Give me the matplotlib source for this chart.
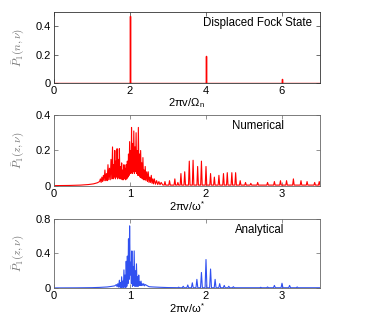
import numpy as np
import matplotlib
matplotlib.use('Agg')
import matplotlib.pyplot as plt

plt.rcParams['font.family'] = ['Liberation Sans', 'DejaVu Sans']
plt.rcParams['mathtext.fontset'] = 'cm'

# top panel: displaced Fock state lines
fock_pos = [2, 4, 6]
fock_height = [0.47, 0.19, 0.03]

# middle panel: numerical spectrum, dense part (x, y)
num_x = [0.0, 0.2, 0.35, 0.45, 0.52, 0.57, 0.60,
         0.61, 0.62, 0.63, 0.64, 0.65, 0.66, 0.67, 0.68, 0.69, 0.70, 0.71, 0.72, 0.73, 0.74,
         0.75, 0.76, 0.77, 0.778, 0.785, 0.793, 0.80, 0.808, 0.815, 0.823, 0.83, 0.838,
         0.845, 0.853, 0.86, 0.868, 0.875, 0.883, 0.89, 0.898, 0.905, 0.913, 0.92, 0.928,
         0.935, 0.943, 0.95, 0.958, 0.965, 0.973, 0.98, 0.988, 0.995, 1.003, 1.01, 1.015,
         1.02, 1.028, 1.035, 1.043, 1.05, 1.058, 1.065, 1.073, 1.08, 1.088, 1.095, 1.103,
         1.11, 1.118, 1.125, 1.133, 1.14, 1.148, 1.155, 1.163, 1.17, 1.178, 1.185, 1.193,
         1.20, 1.21, 1.22, 1.23, 1.24, 1.25, 1.26, 1.27, 1.28, 1.29, 1.30, 1.31, 1.32, 1.335,
         1.35, 1.365, 1.38, 1.395, 1.41, 1.43]
num_y = [0.002, 0.003, 0.005, 0.008, 0.012, 0.018, 0.025,
         0.04, 0.02, 0.05, 0.025, 0.06, 0.03, 0.09, 0.03, 0.07, 0.03, 0.12, 0.035, 0.10, 0.035,
         0.15, 0.04, 0.22, 0.04, 0.12, 0.05, 0.20, 0.04, 0.14, 0.05, 0.21, 0.04,
         0.15, 0.05, 0.21, 0.04, 0.11, 0.04, 0.13, 0.035, 0.09, 0.035, 0.12, 0.04,
         0.10, 0.035, 0.12, 0.04, 0.14, 0.05, 0.18, 0.06, 0.25, 0.07, 0.20, 0.08,
         0.33, 0.07, 0.24, 0.08, 0.31, 0.07, 0.22, 0.08, 0.30, 0.07, 0.20, 0.06,
         0.33, 0.06, 0.18, 0.05, 0.20, 0.045, 0.13, 0.04, 0.16, 0.035, 0.09, 0.035,
         0.11, 0.03, 0.08, 0.025, 0.08, 0.02, 0.05, 0.02, 0.06, 0.015, 0.04, 0.012, 0.04, 0.01,
         0.03, 0.008, 0.025, 0.007, 0.02, 0.006]
# numerical spectrum, sparse narrow spikes above a flat floor
num_spike_x = [1.46, 1.52, 1.59, 1.63, 1.67, 1.72, 1.78, 1.83, 1.89, 1.94, 2.00, 2.06, 2.11,
               2.17, 2.23, 2.28, 2.34, 2.39, 2.45, 2.52, 2.59, 2.68, 2.81, 2.90, 2.98, 3.06,
               3.15, 3.25, 3.33, 3.43, 3.49]
num_spike_h = [0.025, 0.03, 0.04, 0.02, 0.07, 0.08, 0.14, 0.145, 0.11, 0.14, 0.11, 0.07, 0.05,
               0.06, 0.07, 0.075, 0.075, 0.075, 0.03, 0.02, 0.015, 0.02, 0.02, 0.025, 0.03, 0.03,
               0.04, 0.03, 0.025, 0.02, 0.025]
num_floor = 0.005

# bottom panel: analytical spectrum, dense part (x, y)
ana_x = [0.0, 0.3, 0.5, 0.6, 0.7, 0.75, 0.80,
         0.82, 0.83, 0.84, 0.85, 0.86, 0.868, 0.875, 0.883, 0.89, 0.898, 0.905, 0.913,
         0.92, 0.928, 0.935, 0.943, 0.95, 0.958, 0.965, 0.973, 0.98, 0.988, 0.995, 1.003,
         1.01, 1.018, 1.025, 1.033, 1.04, 1.048, 1.055, 1.063, 1.07, 1.078, 1.085, 1.093,
         1.10, 1.108, 1.115, 1.123, 1.13, 1.138, 1.145, 1.153, 1.16, 1.17, 1.18, 1.19, 1.20,
         1.25, 1.30, 1.40, 1.50, 1.60]
ana_y = [0.001, 0.002, 0.004, 0.007, 0.012, 0.018, 0.025,
         0.04, 0.015, 0.05, 0.01, 0.09, 0.01, 0.06, 0.005, 0.13, 0.01, 0.08, 0.0,
         0.21, 0.01, 0.15, 0.0, 0.31, 0.02, 0.37, 0.05, 0.57, 0.10, 0.72, 0.15,
         0.30, 0.05, 0.43, 0.02, 0.25, 0.03, 0.43, 0.02, 0.20, 0.02, 0.28, 0.02,
         0.13, 0.02, 0.15, 0.03, 0.07, 0.03, 0.08, 0.03, 0.05, 0.03, 0.05, 0.025, 0.04,
         0.015, 0.012, 0.008, 0.005, 0.004]
# analytical spectrum, sparse spikes
ana_spike_x = [1.64, 1.70, 1.76, 1.82, 1.88, 1.94, 2.00, 2.06, 2.12, 2.18, 2.24, 2.30, 2.36,
               2.72, 2.81, 2.90, 3.00, 3.10, 3.20]
ana_spike_h = [0.01, 0.02, 0.035, 0.06, 0.10, 0.18, 0.33, 0.22, 0.10, 0.05, 0.03, 0.02, 0.015,
               0.008, 0.012, 0.03, 0.055, 0.03, 0.012]
ana_floor = 0.003


def add_spikes(xs, ys, spike_x, spike_h, floor, end, hw=0.01):
    xs = list(xs)
    ys = list(ys)
    for p, h in zip(spike_x, spike_h):
        xs += [p - hw, p, p + hw]
        ys += [floor, h, floor]
    xs.append(end)
    ys.append(floor)
    return xs, ys


fig = plt.figure(figsize=(3.74, 3.22), dpi=100)
ax1 = fig.add_axes([0.1444, 0.7422, 0.7112, 0.2205])
ax2 = fig.add_axes([0.1444, 0.4224, 0.7112, 0.2205])
ax3 = fig.add_axes([0.1444, 0.1056, 0.7112, 0.2143])

fx, fy = add_spikes([0.0], [0.0], fock_pos, fock_height, 0.0, 7.0, hw=0.0)
nx, ny = add_spikes(num_x, num_y, num_spike_x, num_spike_h, num_floor, 3.5)
ax_, ay_ = add_spikes(ana_x, ana_y, ana_spike_x, ana_spike_h, ana_floor, 3.5, hw=0.012)

ax1.plot(fx, fy, color='#ff0000', lw=1.0)
ax2.plot(nx, ny, color='#ff0000', lw=0.8)
ax3.plot(ax_, ay_, color='#3050f0', lw=0.8)

ax1.set_xlim(0, 7)
ax1.set_ylim(0, 0.5)
ax1.set_xticks([0, 2, 4, 6])
ax1.set_yticks([0, 0.2, 0.4])
ax1.set_yticklabels(['0', '0.2', '0.4'])
ax1.set_xlabel('2πv/Ω$_\\mathregular{n}$', fontsize=8, labelpad=0)
ax1.set_ylabel('$\\bar{P}_1(n,\\nu)$', fontsize=8, color='#777777')

ax2.set_xlim(0, 3.5)
ax2.set_ylim(0, 0.4)
ax2.set_xticks([0, 1, 2, 3])
ax2.set_yticks([0, 0.2, 0.4])
ax2.set_yticklabels(['0', '0.2', '0.4'])
ax2.set_xlabel('2πv/ω$^\\mathregular{*}$', fontsize=8, labelpad=0)
ax2.set_ylabel('$\\bar{P}_1(z,\\nu)$', fontsize=8, color='#777777')

ax3.set_xlim(0, 3.5)
ax3.set_ylim(0, 0.8)
ax3.set_xticks([0, 1, 2, 3])
ax3.set_yticks([0, 0.4, 0.8])
ax3.set_yticklabels(['0', '0.4', '0.8'])
ax3.set_xlabel('2πv/ω$^\\mathregular{*}$', fontsize=8, labelpad=0)
ax3.set_ylabel('$\\bar{P}_1(z,\\nu)$', fontsize=8, color='#777777')

ax1.text(0.97, 0.84, 'Displaced Fock State', transform=ax1.transAxes, ha='right', va='center', fontsize=8.3)
ax2.text(0.865, 0.84, 'Numerical', transform=ax2.transAxes, ha='right', va='center', fontsize=8.3)
ax3.text(0.865, 0.84, 'Analytical', transform=ax3.transAxes, ha='right', va='center', fontsize=8.3)

for ax, sc in [(ax1, '#333333'), (ax2, '#666666'), (ax3, '#666666')]:
    ax.tick_params(direction='in', top=True, right=True, length=3, width=0.5,
                   labelsize=8, pad=2, color=sc)
    for s in ax.spines.values():
        s.set_linewidth(0.6)
        s.set_color(sc)
    ax.yaxis.set_label_coords(-0.10, 0.5)

fig.savefig('out.png', dpi=100)
